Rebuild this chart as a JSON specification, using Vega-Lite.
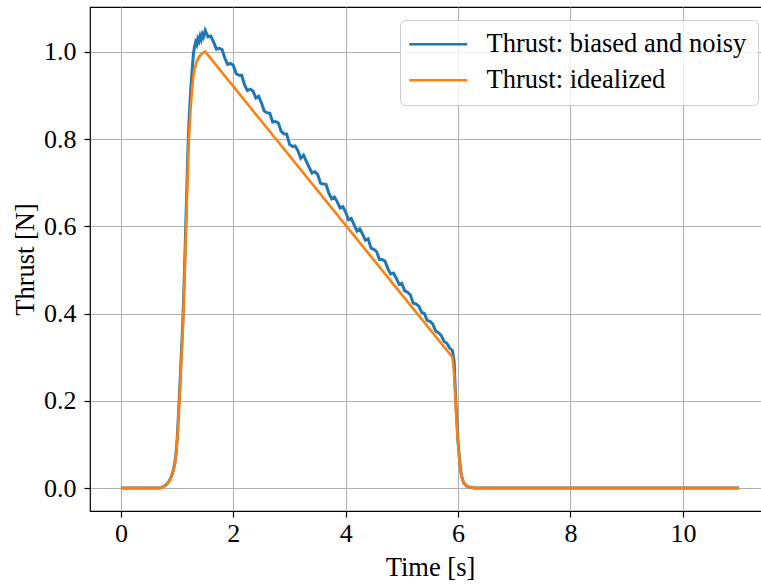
{
  "$schema": "https://vega.github.io/schema/vega-lite/v6.json",
  "width": 680,
  "height": 504,
  "autosize": {"type": "none"},
  "padding": {"left": 90, "top": 7, "right": 0, "bottom": 75},
  "background": "white",
  "datasets": {
    "ideal": [
      [0,0],[0.7,0],[0.75,0.003],[0.8,0.007],[0.85,0.013],[0.9,0.026],[0.93,0.038],[0.96,0.055],[0.98,0.075],[1.0,0.105],[1.02,0.15],[1.04,0.2],[1.07,0.28],[1.1,0.36],[1.13,0.47],[1.16,0.6],[1.19,0.73],[1.21,0.8],[1.24,0.87],[1.27,0.92],[1.3,0.955],[1.35,0.978],[1.4,0.99],[1.45,0.997],[1.5,1.0],[5.9,0.3],[5.93,0.26],[5.95,0.21],[5.97,0.16],[6.0,0.1],[6.03,0.055],[6.06,0.027],[6.1,0.012],[6.15,0.005],[6.2,0.002],[6.3,0],[11,0]
    ],
    "noisy": [
      [0,0],[0.7,0],[0.75,0.003],[0.8,0.007],[0.85,0.014],[0.9,0.027],[0.93,0.04],[0.96,0.058],[0.98,0.079],[1.0,0.11],[1.02,0.157],[1.04,0.209],[1.07,0.293],[1.1,0.376],[1.13,0.491],[1.16,0.627],[1.19,0.763],[1.21,0.836],[1.24,0.909],[1.27,0.962],[1.29,0.995],[1.31,1.012],[1.33,1.022],[1.35,1.016],[1.37,1.03],[1.39,1.024],[1.41,1.036],[1.43,1.028],[1.45,1.04],[1.47,1.034],
      [1.5,1.049],[1.55,1.034],[1.6,1.036],[1.65,1.022],[1.7,1.006],[1.75,1.008],[1.8,1.005],[1.85,0.985],[1.9,0.971],[1.95,0.973],
      [2.0,0.969],[2.05,0.95],[2.1,0.946],[2.15,0.946],[2.2,0.924],[2.25,0.911],[2.3,0.914],[2.35,0.91],[2.4,0.894],[2.45,0.898],
      [2.5,0.883],[2.55,0.864],[2.6,0.86],[2.65,0.859],[2.7,0.839],[2.75,0.84],[2.8,0.837],[2.85,0.818],[2.9,0.812],[2.95,0.811],
      [3.0,0.788],[3.05,0.783],[3.1,0.784],[3.15,0.773],[3.2,0.756],[3.25,0.763],[3.3,0.749],[3.35,0.735],[3.4,0.722],[3.45,0.725],
      [3.5,0.719],[3.55,0.699],[3.6,0.697],[3.65,0.696],[3.7,0.676],[3.75,0.663],[3.8,0.667],[3.85,0.656],[3.9,0.642],[3.95,0.645],
      [4.0,0.632],[4.05,0.615],[4.1,0.618],[4.15,0.603],[4.2,0.589],[4.25,0.594],[4.3,0.582],[4.35,0.568],[4.4,0.571],[4.45,0.55],
      [4.5,0.547],[4.55,0.542],[4.6,0.524],[4.65,0.524],[4.7,0.52],[4.75,0.503],[4.8,0.491],[4.85,0.493],[4.9,0.481],[4.95,0.467],
      [5.0,0.469],[5.05,0.452],[5.1,0.449],[5.15,0.443],[5.2,0.424],[5.25,0.422],[5.3,0.417],[5.35,0.403],[5.4,0.4],[5.45,0.384],
      [5.5,0.382],[5.55,0.376],[5.6,0.36],[5.65,0.356],[5.7,0.35],[5.75,0.336],[5.8,0.332],[5.85,0.321],[5.9,0.315],
      [5.93,0.29],[5.95,0.225],[5.97,0.17],[6.0,0.105],[6.03,0.058],[6.06,0.028],[6.1,0.012],[6.15,0.005],[6.2,0.002],[6.3,0],[11,0]
    ]
  },
  "layer": [
    {
      "data": {"name": "noisy"},
      "transform": [
        {"calculate": "datum[0]", "as": "t"},
        {"calculate": "datum[1]", "as": "thrust"},
        {"calculate": "'Thrust: biased and noisy'", "as": "series"}
      ],
      "mark": {"type": "line", "strokeWidth": 3, "clip": true},
      "encoding": {
        "x": {"field": "t", "type": "quantitative"},
        "y": {"field": "thrust", "type": "quantitative"},
        "color": {"field": "series", "type": "nominal"}
      }
    },
    {
      "data": {"name": "ideal"},
      "transform": [
        {"calculate": "datum[0]", "as": "t"},
        {"calculate": "datum[1]", "as": "thrust"},
        {"calculate": "'Thrust: idealized'", "as": "series"}
      ],
      "mark": {"type": "line", "strokeWidth": 2.6, "clip": true},
      "encoding": {
        "x": {"field": "t", "type": "quantitative"},
        "y": {"field": "thrust", "type": "quantitative"},
        "color": {"field": "series", "type": "nominal"}
      }
    }
  ],
  "encoding": {
    "x": {
      "field": "t", "type": "quantitative",
      "scale": {"domain": [-0.55, 11.55], "nice": false, "zero": false},
      "axis": {"title": "Time [s]", "values": [0, 2, 4, 6, 8, 10], "format": "d"}
    },
    "y": {
      "field": "thrust", "type": "quantitative",
      "scale": {"domain": [-0.0525, 1.1025], "nice": false, "zero": false},
      "axis": {"title": "Thrust [N]", "values": [0, 0.2, 0.4, 0.6, 0.8, 1.0], "format": ".1f"}
    },
    "color": {
      "field": "series", "type": "nominal",
      "scale": {"domain": ["Thrust: biased and noisy", "Thrust: idealized"], "range": ["#1f77b4", "#ff7f0e"]},
      "legend": {
        "title": null,
        "orient": "none",
        "legendX": 310,
        "legendY": 13,
        "padding": 11,
        "rowPadding": 9,
        "fillColor": "rgba(255,255,255,0.8)",
        "strokeColor": "#cccccc",
        "cornerRadius": 5,
        "symbolType": "M-2.9,0H2.9",
        "symbolSize": 400,
        "symbolStrokeWidth": 2.6,
        "symbolOffset": 14,
        "labelOffset": 35,
        "labelFont": "Liberation Serif",
        "labelFontSize": 26.5,
        "labelColor": "black",
        "labelLimit": 400
      }
    }
  },
  "config": {
    "view": {"stroke": "black", "strokeWidth": 1.2},
    "font": "Liberation Serif",
    "axis": {
      "domain": false,
      "grid": true,
      "gridColor": "#b0b0b0",
      "gridWidth": 1.1,
      "gridOpacity": 1,
      "tickColor": "black",
      "tickSize": 6,
      "tickWidth": 1.2,
      "labelFont": "Liberation Serif",
      "labelFontSize": 26,
      "labelColor": "black",
      "titleFont": "Liberation Serif",
      "titleFontSize": 26.5,
      "titleFontWeight": "normal",
      "titleColor": "black"
    },
    "axisX": {"labelPadding": 3, "titlePadding": 8},
    "axisY": {"labelPadding": 8, "titlePadding": 4}
  }
}
